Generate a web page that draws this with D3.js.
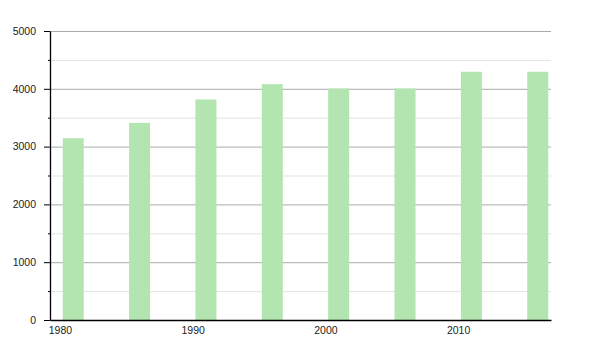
<!DOCTYPE html>
<html>
<head>
  <meta charset="UTF-8">
  <script src="https://d3js.org/d3.v7.min.js"></script>
  <style>
    body { margin: 0; background: #fff; }
    svg text { font-family: "Liberation Sans", Arial, sans-serif; font-size: 10.5px; fill: #222; }
  </style>
</head>
<body>
  <div id="chart"></div>
  <script>
    // 数据
    const years = [1981, 1986, 1991, 1996, 2001, 2006, 2011, 2016];
    const population = [3145, 3410, 3815, 4080, 4005, 4005, 4295, 4295];
    const xTicks = [1980, 1990, 2000, 2010];
    const yTicks = [0, 1000, 2000, 3000, 4000, 5000];

    const width = 600, height = 350;
    const plotL = 50, plotR = 551, plotT = 31, plotB = 320;

    const svg = d3.select("#chart").append("svg")
      .attr("width", width)
      .attr("height", height);

    const x = d3.scaleLinear().domain([1979.25, 2017]).range([plotL, plotR]);
    const y = d3.scaleLinear().domain([0, 5000]).range([plotB, plotT]);

    // 柔和的柱边
    svg.append("defs").append("filter")
      .attr("id", "soft")
      .append("feGaussianBlur")
      .attr("stdDeviation", 0.5);

    // 网格线：500 浅色，1000 深色
    const minor = d3.range(500, 5000, 1000);
    svg.append("g").selectAll("line")
      .data(minor)
      .enter().append("line")
      .attr("x1", plotL).attr("x2", plotR)
      .attr("y1", d => y(d) + 0.5).attr("y2", d => y(d) + 0.5)
      .attr("stroke", "#e3e3e3");

    svg.append("g").selectAll("line")
      .data(yTicks.filter(d => d > 0))
      .enter().append("line")
      .attr("x1", plotL).attr("x2", plotR)
      .attr("y1", d => y(d) + 0.5).attr("y2", d => y(d) + 0.5)
      .attr("stroke", "#ababab");

    // 柱子
    const barW = 21;
    svg.append("g")
      .attr("filter", "url(#soft)")
      .selectAll("rect")
      .data(years)
      .enter().append("rect")
      .attr("x", d => x(d) - barW / 2)
      .attr("width", barW)
      .attr("y", (d, i) => y(population[i]))
      .attr("height", (d, i) => plotB - y(population[i]))
      .attr("fill", "#b3e5b1");

    // Y 轴
    const yAxis = svg.append("g")
      .attr("transform", `translate(${plotL},0)`)
      .call(d3.axisLeft(y).tickValues(yTicks).tickFormat(d3.format("d")).tickSize(6).tickPadding(8).tickSizeOuter(0));
    yAxis.select(".domain").attr("stroke", "#000").attr("stroke-width", 1.3);
    yAxis.selectAll(".tick line").attr("stroke", "#000");
    yAxis.selectAll("text").attr("font-size", null).attr("font-family", null).attr("fill", null);

    // Y 轴小刻度
    yAxis.append("g").selectAll("line")
      .data(minor)
      .enter().append("line")
      .attr("x1", -2).attr("x2", 0)
      .attr("y1", d => y(d) + 0.5).attr("y2", d => y(d) + 0.5)
      .attr("stroke", "#000");

    // X 轴
    const xAxis = svg.append("g")
      .attr("transform", `translate(0,${plotB})`)
      .call(d3.axisBottom(x).tickValues(xTicks).tickFormat(d3.format("d")).tickSize(0).tickPadding(7).tickSizeOuter(0));
    xAxis.select(".domain").attr("stroke", "#000").attr("stroke-width", 1.3);
    xAxis.selectAll("text").attr("font-size", null).attr("font-family", null).attr("fill", null);
  </script>
</body>
</html>
